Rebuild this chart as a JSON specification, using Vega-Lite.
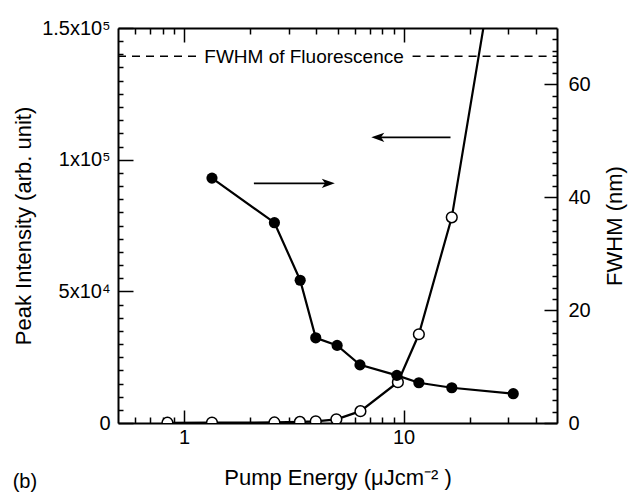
{
  "$schema": "https://vega.github.io/schema/vega-lite/v6.json",
  "width": 439,
  "height": 395,
  "autosize": "none",
  "padding": {"left": 118, "top": 28, "right": 76, "bottom": 69},
  "background": "white",
  "title": {"text": "(b)", "orient": "bottom", "anchor": "start", "frame": "bounds", "offset": -16, "fontSize": 20, "fontWeight": "normal", "font": "Liberation Sans", "color": "black"},
  "datasets": {
    "intensity": [
      {"E": 0.84, "I": 100},
      {"E": 1.34, "I": 150},
      {"E": 2.58, "I": 200},
      {"E": 3.37, "I": 400},
      {"E": 3.98, "I": 650},
      {"E": 4.94, "I": 1400},
      {"E": 6.36, "I": 4500},
      {"E": 9.42, "I": 15500},
      {"E": 11.74, "I": 33700},
      {"E": 16.58, "I": 78100},
      {"E": 31.6, "I": 218000}
    ],
    "fwhm": [
      {"E": 1.34, "W": 43.4},
      {"E": 2.58, "W": 35.5},
      {"E": 3.38, "W": 25.3},
      {"E": 3.98, "W": 15.1},
      {"E": 4.98, "W": 13.75},
      {"E": 6.33, "W": 10.3},
      {"E": 9.32, "W": 8.44},
      {"E": 11.74, "W": 7.13},
      {"E": 16.58, "W": 6.25},
      {"E": 31.6, "W": 5.19}
    ],
    "ref": [
      {"E1": 0.5, "E2": 1.15, "W": 65},
      {"E1": 10.99, "E2": 50, "W": 65}
    ],
    "label": [
      {"E": 3.52, "W": 65, "text": "FWHM of Fluorescence"}
    ],
    "arrows": [
      {"E1": 2.08, "E2": 4.54, "head": 4.54, "I": 91010, "dir": "right"},
      {"E1": 7.63, "E2": 16.36, "head": 7.63, "I": 108480, "dir": "left"}
    ]
  },
  "resolve": {
    "scale": {"y": "independent"},
    "axis": {"x": "independent", "y": "independent"}
  },
  "layer": [
    {
      "data": {"name": "intensity"},
      "mark": {"type": "line", "color": "black", "strokeWidth": 2.2, "clip": true},
      "encoding": {
        "x": {"field": "E", "type": "quantitative", "scale": {"type": "log", "domain": [0.5, 50]},
          "axis": {"orient": "bottom", "values": [1, 10], "format": "~g", "tickSize": -13, "labelPadding": 17, "labelFlush": false, "title": "Pump Energy (μJcm⁻² )", "titlePadding": 20}},
        "y": {"field": "I", "type": "quantitative", "scale": {"domain": [0, 150000], "nice": false, "zero": false},
          "axis": {"orient": "left", "values": [0, 50000, 100000, 150000], "labelExpr": "datum.value == 0 ? '0' : datum.value == 50000 ? '5x10⁴' : datum.value == 100000 ? '1x10⁵' : '1.5x10⁵'", "tickSize": -15, "labelPadding": 23, "labelFlush": false, "title": "Peak Intensity (arb. unit)", "titlePadding": 6}}
      }
    },
    {
      "data": {"name": "fwhm"},
      "mark": {"type": "line", "color": "black", "strokeWidth": 2.2, "clip": true},
      "encoding": {
        "x": {"field": "E", "type": "quantitative", "scale": {"type": "log", "domain": [0.5, 50]},
          "axis": {"orient": "top", "values": [1, 10], "tickSize": -14, "labels": false, "title": null}},
        "y": {"field": "W", "type": "quantitative", "scale": {"domain": [0, 70], "nice": false, "zero": false},
          "axis": {"orient": "right", "values": [0, 20, 40, 60], "tickSize": -13, "labelPadding": 24, "labelFlush": false, "title": "FWHM (nm)", "titleAngle": 270, "titleBaseline": "top", "titlePadding": 14}}
      }
    },
    {
      "data": {"name": "intensity"},
      "mark": {"type": "point", "shape": "circle", "filled": true, "fill": "white", "stroke": "black", "strokeWidth": 1.5, "size": 115, "opacity": 1, "clip": true},
      "encoding": {
        "x": {"field": "E", "type": "quantitative", "scale": {"type": "log", "domain": [0.5, 50]},
          "axis": {"orient": "bottom", "values": [0.6, 0.7, 0.8, 0.9, 2, 3, 4, 5, 6, 7, 8, 9, 20, 30, 40], "tickSize": -6, "labels": false, "domain": false, "title": null}},
        "y": {"field": "I", "type": "quantitative", "scale": {"domain": [0, 150000], "nice": false, "zero": false},
          "axis": {"orient": "left", "values": [5000, 10000, 15000, 20000, 25000, 30000, 35000, 40000, 45000, 55000, 60000, 65000, 70000, 75000, 80000, 85000, 90000, 95000, 105000, 110000, 115000, 120000, 125000, 130000, 135000, 140000, 145000], "tickSize": -5, "labels": false, "domain": false, "title": null}}
      }
    },
    {
      "data": {"name": "fwhm"},
      "mark": {"type": "point", "shape": "circle", "filled": true, "color": "black", "size": 125, "opacity": 1, "clip": true},
      "encoding": {
        "x": {"field": "E", "type": "quantitative", "scale": {"type": "log", "domain": [0.5, 50]},
          "axis": {"orient": "top", "values": [0.6, 0.7, 0.8, 0.9, 2, 3, 4, 5, 6, 7, 8, 9, 20, 30, 40], "tickSize": -6, "labels": false, "domain": false, "title": null}},
        "y": {"field": "W", "type": "quantitative", "scale": {"domain": [0, 70], "nice": false, "zero": false},
          "axis": {"orient": "right", "values": [2, 4, 6, 8, 10, 12, 14, 16, 18, 22, 24, 26, 28, 30, 32, 34, 36, 38, 42, 44, 46, 48, 50, 52, 54, 56, 58, 62, 64, 66, 68], "tickSize": -5, "labels": false, "domain": false, "title": null}}
      }
    },
    {
      "data": {"name": "ref"},
      "mark": {"type": "rule", "color": "black", "strokeWidth": 1.5, "strokeDash": [8, 6]},
      "encoding": {
        "x": {"field": "E1", "type": "quantitative", "scale": {"type": "log", "domain": [0.5, 50]}, "axis": null},
        "x2": {"field": "E2"},
        "y": {"field": "W", "type": "quantitative", "scale": {"domain": [0, 70], "nice": false, "zero": false}, "axis": null}
      }
    },
    {
      "data": {"name": "label"},
      "mark": {"type": "text", "font": "Liberation Sans", "fontSize": 19, "color": "black", "align": "center", "baseline": "middle", "dy": 1},
      "encoding": {
        "x": {"field": "E", "type": "quantitative", "scale": {"type": "log", "domain": [0.5, 50]}, "axis": null},
        "y": {"field": "W", "type": "quantitative", "scale": {"domain": [0, 70], "nice": false, "zero": false}, "axis": null},
        "text": {"field": "text"}
      }
    },
    {
      "data": {"name": "arrows"},
      "mark": {"type": "rule", "color": "black", "strokeWidth": 1.8},
      "encoding": {
        "x": {"field": "E1", "type": "quantitative", "scale": {"type": "log", "domain": [0.5, 50]}, "axis": null},
        "x2": {"field": "E2"},
        "y": {"field": "I", "type": "quantitative", "scale": {"domain": [0, 150000], "nice": false, "zero": false}, "axis": null}
      }
    },
    {
      "data": {"name": "arrows"},
      "transform": [{"filter": "datum.dir == 'right'"}],
      "mark": {"type": "point", "shape": "M1,0 L-1,-0.7 L-0.5,0 L-1,0.7 Z", "filled": true, "color": "black", "size": 169, "opacity": 1},
      "encoding": {
        "x": {"field": "head", "type": "quantitative", "scale": {"type": "log", "domain": [0.5, 50]}, "axis": null},
        "y": {"field": "I", "type": "quantitative", "scale": {"domain": [0, 150000], "nice": false, "zero": false}, "axis": null}
      }
    },
    {
      "data": {"name": "arrows"},
      "transform": [{"filter": "datum.dir == 'left'"}],
      "mark": {"type": "point", "shape": "M-1,0 L1,-0.7 L0.5,0 L1,0.7 Z", "filled": true, "color": "black", "size": 169, "opacity": 1},
      "encoding": {
        "x": {"field": "head", "type": "quantitative", "scale": {"type": "log", "domain": [0.5, 50]}, "axis": null},
        "y": {"field": "I", "type": "quantitative", "scale": {"domain": [0, 150000], "nice": false, "zero": false}, "axis": null}
      }
    }
  ],
  "config": {
    "font": "Liberation Sans",
    "view": {"stroke": null},
    "axis": {
      "grid": false,
      "domainColor": "black",
      "domainWidth": 2,
      "tickColor": "black",
      "tickWidth": 1.5,
      "labelColor": "black",
      "titleColor": "black",
      "labelFont": "Liberation Sans",
      "titleFont": "Liberation Sans",
      "labelFontSize": 20,
      "titleFontSize": 22,
      "titleFontWeight": "normal"
    }
  }
}
